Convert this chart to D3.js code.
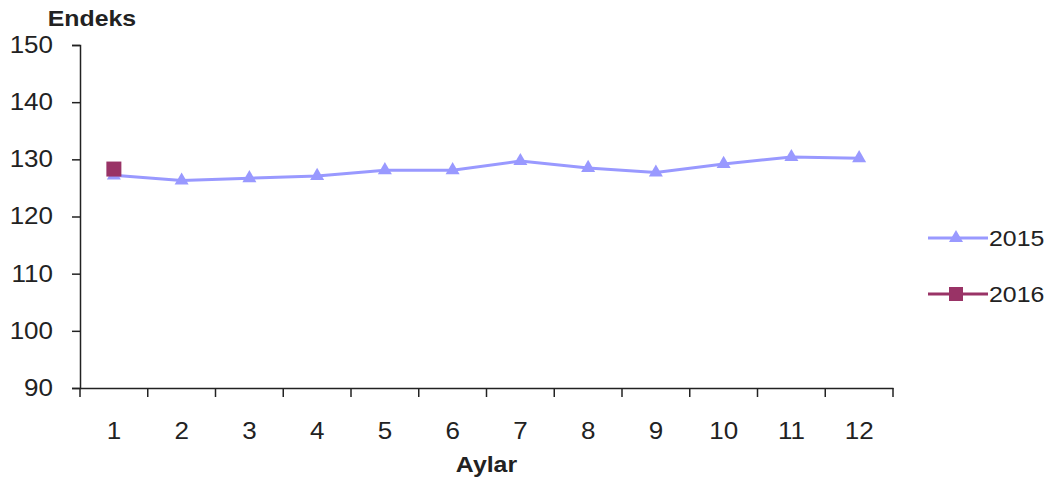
<!DOCTYPE html>
<html>
<head>
<meta charset="utf-8">
<script src="https://cdn.jsdelivr.net/npm/d3@7"></script>
<style>
  html, body { margin: 0; padding: 0; background: #fff; overflow: hidden; }
  svg { display: block; }
  text { font-family: "Liberation Sans", Arial, sans-serif; fill: #222; }
</style>
</head>
<body>
<svg id="chart" width="1049" height="480"></svg>
<script>
// Data
const months = ["1", "2", "3", "4", "5", "6", "7", "8", "9", "10", "11", "12"];
const values2015 = [127.2, 126.3, 126.7, 127.1, 128.1, 128.1, 129.7, 128.5, 127.7, 129.2, 130.4, 130.2];
const values2016 = [128.3];
const yTicks = [90, 100, 110, 120, 130, 140, 150];

const svg = d3.select("#chart");
const margin = { top: 45, right: 156, bottom: 92, left: 80 };
const width = +svg.attr("width");
const height = +svg.attr("height");
const innerWidth = width - margin.left - margin.right;
const innerHeight = height - margin.top - margin.bottom;

const g = svg.append("g")
    .attr("transform", `translate(${margin.left},${margin.top})`);

// Scales
const xScale = d3.scaleBand().domain(months).range([0, innerWidth]);
const yScale = d3.scaleLinear().domain([90, 150]).range([innerHeight, 0]);
const xc = d => xScale(d) + xScale.bandwidth() / 2;

// Y axis
const gY = g.append("g").call(d3.axisLeft(yScale).tickValues(yTicks).tickSize(8).tickPadding(19));
gY.selectAll("path, line").attr("stroke", "#222").attr("stroke-width", 1.5);
gY.selectAll("text").attr("font-size", 23).attr("fill", "#333");

// X axis, ticks on band boundaries
const gX = g.append("g").attr("transform", `translate(0,${innerHeight})`)
    .call(d3.axisBottom(xScale).tickSize(0).tickPadding(35));
gX.select(".domain").attr("stroke", "#222").attr("stroke-width", 1.5);
gX.selectAll("text").attr("font-size", 23).attr("fill", "#333");
const bounds = months.map(m => xScale(m)).concat([innerWidth]);
gX.selectAll(".bound").data(bounds).enter().append("line")
    .attr("x1", d => d).attr("x2", d => d)
    .attr("y1", 0).attr("y2", 9)
    .attr("stroke", "#222").attr("stroke-width", 1.5);

// Axis titles
svg.append("text").attr("x", 92).attr("y", 26)
    .attr("text-anchor", "middle").attr("font-weight", "bold").attr("font-size", 22)
    .text("Endeks");
svg.append("text").attr("x", margin.left + innerWidth / 2).attr("y", 472)
    .attr("text-anchor", "middle").attr("font-weight", "bold").attr("font-size", 22)
    .text("Aylar");

// Series 2015
const c2015 = "#9999ff", c2016 = "#993366";
const line = d3.line().x((d, i) => xc(months[i])).y(d => yScale(d));
g.append("path").datum(values2015)
    .attr("fill", "none").attr("stroke", c2015).attr("stroke-width", 3)
    .attr("d", line);
const tri = d3.symbol().type(d3.symbolTriangle).size(85);
g.selectAll(".tri").data(values2015).enter().append("path")
    .attr("transform", (d, i) => `translate(${xc(months[i])},${yScale(d)})`)
    .attr("d", tri).attr("fill", c2015);

// Series 2016
g.selectAll(".sq").data(values2016).enter().append("rect")
    .attr("x", (d, i) => xc(months[i]) - 7.5).attr("y", d => yScale(d) - 7.5)
    .attr("width", 15).attr("height", 15).attr("fill", c2016);

// Legend
const legend = [{ name: "2015", color: c2015, marker: "tri" }, { name: "2016", color: c2016, marker: "sq" }];
const lg = svg.selectAll(".legend").data(legend).enter().append("g")
    .attr("transform", (d, i) => `translate(928,${238 + i * 56})`);
lg.append("line").attr("x1", 0).attr("x2", 60).attr("y1", 0).attr("y2", 0)
    .attr("stroke", d => d.color).attr("stroke-width", 3);
lg.filter(d => d.marker === "tri").append("path")
    .attr("transform", "translate(28,0)").attr("d", tri).attr("fill", d => d.color);
lg.filter(d => d.marker === "sq").append("rect")
    .attr("x", 21).attr("y", -7).attr("width", 14).attr("height", 14).attr("fill", d => d.color);
lg.append("text").attr("x", 61).attr("y", 8).attr("font-size", 22).attr("fill", "#222")
    .text(d => d.name);

// the reference type is a little wider than Arial, stretch it sideways
svg.selectAll("text").each(function() {
    const w = this.getComputedTextLength();
    d3.select(this).attr("textLength", w * 1.13).attr("lengthAdjust", "spacingAndGlyphs");
});
</script>
</body>
</html>
